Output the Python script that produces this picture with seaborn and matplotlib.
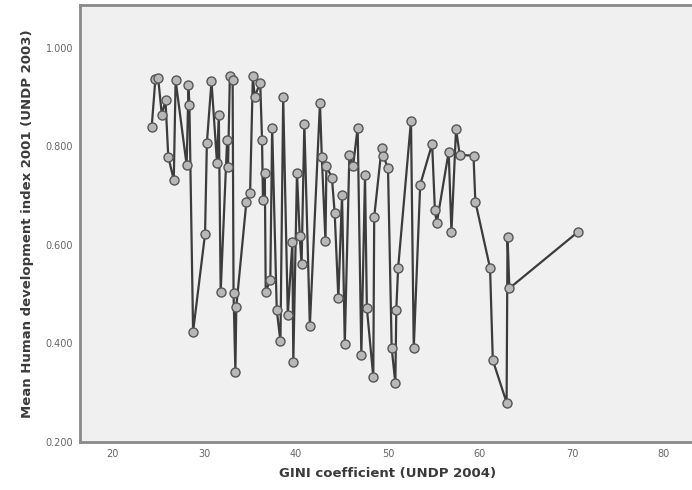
import matplotlib
matplotlib.use("Agg")
import matplotlib.pyplot as plt
import pandas as pd
import seaborn as sns
from matplotlib.ticker import FormatStrFormatter

# GINI coefficient (UNDP 2004), ordered as the line is drawn
gini = [24.3, 24.7, 25.0, 25.4, 25.8, 26.1, 26.7, 26.9, 28.1, 28.3,
        28.4, 28.8, 30.1, 30.3, 30.8, 31.4, 31.6, 31.8, 32.5, 32.6,
        32.8, 33.1, 33.2, 33.4, 33.5, 34.6, 35.0, 35.3, 35.5, 36.1,
        36.3, 36.4, 36.6, 36.7, 37.2, 37.4, 37.9, 38.3, 38.6, 39.1,
        39.6, 39.7, 40.1, 40.4, 40.6, 40.9, 41.5, 42.6, 42.8, 43.2,
        43.3, 43.9, 44.2, 44.6, 45.0, 45.3, 45.8, 46.2, 46.7, 47.1,
        47.5, 47.7, 48.4, 48.5, 49.3, 49.5, 50.0, 50.4, 50.8, 50.9,
        51.1, 52.5, 52.8, 53.5, 54.8, 55.1, 55.3, 56.6, 56.9, 57.4,
        57.8, 59.3, 59.5, 61.1, 61.4, 62.9, 63.0, 63.2, 70.7]

# Mean Human development index 2001 (UNDP 2003)
hdi = [0.840, 0.937, 0.939, 0.864, 0.894, 0.779, 0.732, 0.934, 0.762, 0.925,
       0.884, 0.424, 0.622, 0.807, 0.932, 0.767, 0.864, 0.505, 0.813, 0.759,
       0.942, 0.935, 0.503, 0.343, 0.475, 0.688, 0.706, 0.942, 0.901, 0.929,
       0.813, 0.691, 0.746, 0.505, 0.529, 0.838, 0.468, 0.404, 0.900, 0.458,
       0.606, 0.362, 0.746, 0.618, 0.561, 0.846, 0.436, 0.888, 0.779, 0.607,
       0.760, 0.736, 0.665, 0.492, 0.702, 0.399, 0.783, 0.760, 0.838, 0.377,
       0.742, 0.472, 0.332, 0.657, 0.796, 0.780, 0.756, 0.391, 0.319, 0.468,
       0.553, 0.852, 0.390, 0.722, 0.805, 0.671, 0.644, 0.789, 0.627, 0.835,
       0.783, 0.781, 0.688, 0.553, 0.366, 0.280, 0.617, 0.512, 0.627]

x_ticks = [20, 30, 40, 50, 60, 70, 80]
y_ticks = [0.2, 0.4, 0.6, 0.8, 1.0]


def main():
    df = pd.DataFrame({"gini": gini, "hdi": hdi})

    sns.set_style("white")
    plt.rcParams["font.family"] = ["DejaVu Sans"]

    fig = plt.figure(figsize=(6.92, 4.90), dpi=100)
    # axes runs a little past the right edge, as in the cropped original
    ax = fig.add_axes([80 / 692, 48 / 490, 616 / 692, 437 / 490])
    ax.set_facecolor("#f0f0f0")

    sns.lineplot(data=df, x="gini", y="hdi", estimator=None, sort=False,
                 ax=ax, color="#3c3c3c", linewidth=1.6, marker="o",
                 markersize=6.5, markerfacecolor="#b8b8b8",
                 markeredgecolor="#555555", markeredgewidth=1.0)

    ax.set_xlim(16.5, 83.5)
    ax.set_ylim(0.2, 1.087)
    ax.set_xticks(x_ticks)
    ax.set_yticks(y_ticks)
    ax.yaxis.set_major_formatter(FormatStrFormatter("%.3f"))

    for side in ["left", "bottom", "top"]:
        ax.spines[side].set_color("#8a8a8a")
        ax.spines[side].set_linewidth(2)
    ax.spines["right"].set_visible(False)

    ax.tick_params(axis="both", direction="out", length=4, width=1,
                   color="#8a8a8a", labelsize=7, labelcolor="#666666",
                   pad=1)

    ax.set_xlabel("GINI coefficient (UNDP 2004)", fontsize=9.5,
                  fontweight="bold", color="#3a3a3a", labelpad=6)
    ax.set_ylabel("Mean Human development index 2001 (UNDP 2003)",
                  fontsize=9.5, fontweight="bold", color="#3a3a3a",
                  labelpad=8)

    fig.savefig("out.png", dpi=100)


if __name__ == "__main__":
    main()
